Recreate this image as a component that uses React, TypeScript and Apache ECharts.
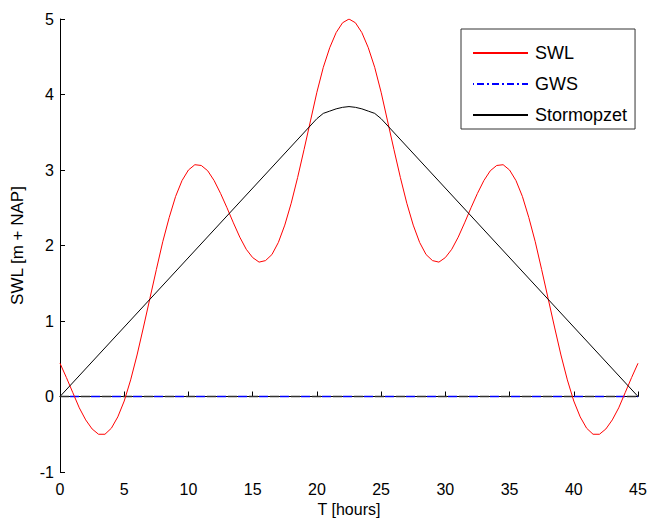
import React, { useEffect, useRef } from "react";
import * as echarts from "echarts";

const hours = [
  0, 0.5, 1, 1.5, 2, 2.5, 3, 3.5, 4, 4.5, 5, 5.5, 6, 6.5, 7, 7.5, 8, 8.5, 9, 9.5,
  10, 10.5, 11, 11.5, 12, 12.5, 13, 13.5, 14, 14.5, 15, 15.5, 16, 16.5, 17, 17.5,
  18, 18.5, 19, 19.5, 20, 20.5, 21, 21.5, 22, 22.5, 23, 23.5, 24, 24.5, 25, 25.5,
  26, 26.5, 27, 27.5, 28, 28.5, 29, 29.5, 30, 30.5, 31, 31.5, 32, 32.5, 33, 33.5,
  34, 34.5, 35, 35.5, 36, 36.5, 37, 37.5, 38, 38.5, 39, 39.5, 40, 40.5, 41, 41.5,
  42, 42.5, 43, 43.5, 44, 44.5, 45,
];

const swl = [
  0.44, 0.25, 0.05, -0.15, -0.31, -0.43, -0.5, -0.5, -0.42, -0.27, -0.06, 0.22,
  0.55, 0.92, 1.3, 1.68, 2.05, 2.37, 2.65, 2.86, 3.0, 3.07, 3.06, 2.99, 2.86, 2.69,
  2.5, 2.3, 2.11, 1.95, 1.84, 1.78, 1.8, 1.88, 2.04, 2.27, 2.56, 2.9, 3.27, 3.65,
  4.03, 4.36, 4.62, 4.82, 4.95, 5.0, 4.95, 4.82, 4.62, 4.36, 4.03, 3.65, 3.27, 2.9,
  2.56, 2.27, 2.04, 1.88, 1.8, 1.78, 1.84, 1.95, 2.11, 2.3, 2.5, 2.69, 2.86, 2.99,
  3.06, 3.07, 3.0, 2.86, 2.65, 2.37, 2.05, 1.68, 1.3, 0.92, 0.55, 0.22, -0.06,
  -0.27, -0.42, -0.5, -0.5, -0.43, -0.31, -0.15, 0.05, 0.25, 0.44,
];

const surgeHours = [0, 20, 20.5, 21, 21.5, 22, 22.5, 23, 23.5, 24, 24.5, 25, 45];
const surge = [0, 3.68, 3.75, 3.78, 3.81, 3.83, 3.84, 3.83, 3.81, 3.78, 3.75, 3.68, 0];

const gwsHours = [0, 45];
const gws = [0, 0];

const xTicks = [0, 5, 10, 15, 20, 25, 30, 35, 40, 45];
const yTicks = [-1, 0, 1, 2, 3, 4, 5];

const FONT = "'Liberation Sans', Arial, Helvetica, sans-serif";

export default function App() {
  const ref = useRef<HTMLDivElement>(null);
  useEffect(() => {
    if (!ref.current) return;
    const chart = echarts.init(ref.current, null, { renderer: "svg" });
    const pair = (xs: number[], ys: number[]) => xs.map((x, i) => [x, ys[i]]);
    chart.setOption({
      animation: false,
      backgroundColor: "#ffffff",
      textStyle: { fontFamily: FONT, color: "#000" },
      grid: {
        left: 60,
        right: 9,
        top: 19,
        bottom: 46,
        containLabel: false,
        outerBoundsMode: "none",
      },
      xAxis: {
        type: "value",
        min: xTicks[0],
        max: xTicks[xTicks.length - 1],
        interval: 5,
        name: "T [hours]",
        nameLocation: "middle",
        nameGap: 25,
        nameTextStyle: { fontSize: 16, color: "#000", fontFamily: FONT },
        axisLine: { lineStyle: { color: "#000", width: 1 } },
        axisTick: { inside: true, length: 5, lineStyle: { color: "#000" } },
        axisLabel: { fontSize: 16, color: "#000", margin: 9, fontFamily: FONT },
        splitLine: { show: false },
      },
      yAxis: {
        type: "value",
        min: yTicks[0],
        max: yTicks[yTicks.length - 1],
        interval: 1,
        name: "SWL [m + NAP]",
        nameLocation: "middle",
        nameGap: 34,
        nameTextStyle: { fontSize: 17, color: "#000", fontFamily: FONT },
        axisLine: { show: true, lineStyle: { color: "#000", width: 1 } },
        axisTick: { show: true, inside: true, length: 5, lineStyle: { color: "#000" } },
        axisLabel: { fontSize: 16, color: "#000", margin: 6, fontFamily: FONT },
        splitLine: { show: false },
      },
      legend: {
        orient: "vertical",
        left: 461,
        top: 29,
        padding: [15, 8, 5, 11],
        itemWidth: 55,
        itemHeight: 14,
        itemGap: 13,
        backgroundColor: "#fff",
        borderColor: "#333",
        borderWidth: 1,
        borderRadius: 0,
        itemStyle: { opacity: 0 },
        textStyle: { fontSize: 18, color: "#000", fontFamily: FONT, padding: [0, 0, 0, 2] },
        data: [
          { name: "SWL" },
          { name: "GWS", lineStyle: { type: [7, 3, 2, 3], color: "#0000ff" } },
          { name: "Stormopzet" },
        ],
      },
      series: [
        {
          name: "Zero",
          type: "line",
          data: pair(gwsHours, gws),
          symbol: "none",
          itemStyle: { color: "#333" },
          lineStyle: { color: "#333", width: 1.3, type: [9, 12] },
          z: 1,
        },
        {
          name: "GWS",
          type: "line",
          data: pair(gwsHours, gws),
          symbol: "none",
          itemStyle: { color: "#0000ff" },
          lineStyle: { color: "#0000ff", width: 1.3, type: [9, 12], dashOffset: 10.5 },
          z: 2,
        },
        {
          name: "SWL",
          type: "line",
          data: pair(hours, swl),
          symbol: "none",
          itemStyle: { color: "#ff0000" },
          lineStyle: { color: "#ff0000", width: 1 },
          z: 3,
        },
        {
          name: "Stormopzet",
          type: "line",
          data: pair(surgeHours, surge),
          symbol: "none",
          itemStyle: { color: "#000" },
          lineStyle: { color: "#000", width: 1 },
          z: 3,
        },
      ],
    });
    return () => chart.dispose();
  }, []);
  return (
    <div
      ref={ref}
      style={{ position: "fixed", left: 0, top: 0, width: 647, height: 518 }}
    />
  );
}
